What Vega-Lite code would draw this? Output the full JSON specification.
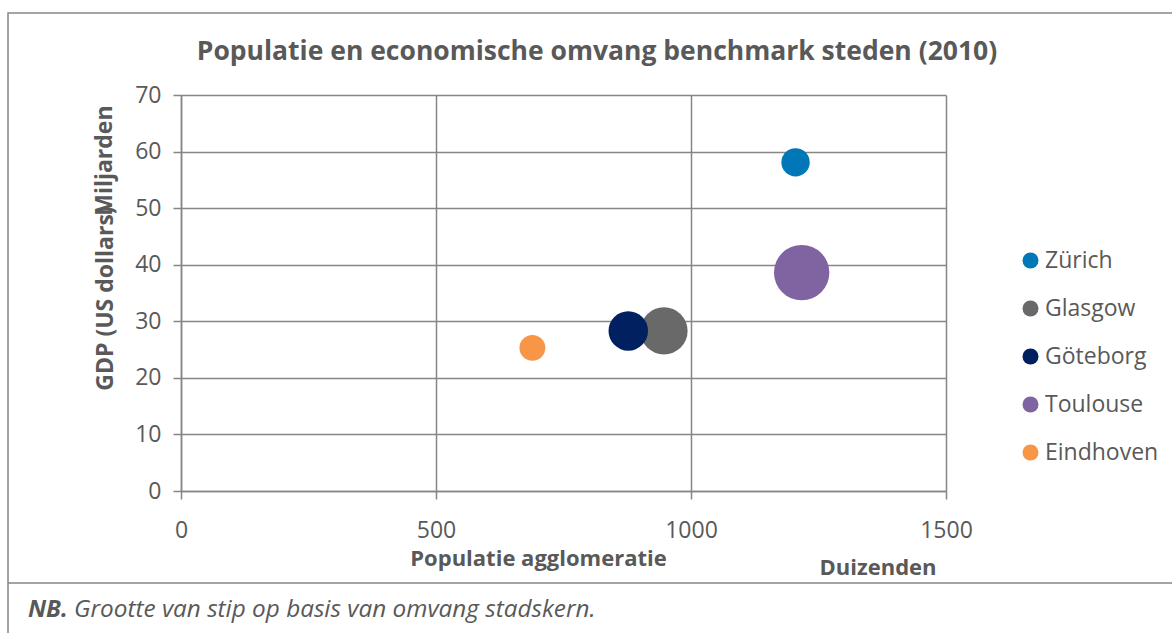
{
  "$schema": "https://vega.github.io/schema/vega-lite/v6.json",
  "width": 765,
  "height": 396,
  "autosize": {"type": "none"},
  "padding": {"left": 181, "top": 95, "right": 226, "bottom": 142},
  "background": "white",
  "config": {
    "font": "Open Sans",
    "view": {"stroke": null},
    "axis": {
      "labelFont": "Open Sans",
      "labelFontSize": 23,
      "labelColor": "#595959",
      "titleFont": "Open Sans",
      "titleColor": "#595959",
      "titleFontWeight": "bold",
      "gridColor": "#868686",
      "gridWidth": 1.5,
      "gridOpacity": 1,
      "domainColor": "#868686",
      "domainWidth": 1.5,
      "tickColor": "#868686",
      "tickWidth": 1.5,
      "tickSize": 8
    }
  },
  "layer": [
    {
      "data": {
        "values": [
          {"stad": "Zürich", "populatie": 1205, "gdp": 58.1, "omvang": 31},
          {"stad": "Glasgow", "populatie": 947, "gdp": 28.3, "omvang": 86},
          {"stad": "Göteborg", "populatie": 877, "gdp": 28.3, "omvang": 60},
          {"stad": "Toulouse", "populatie": 1217, "gdp": 38.6, "omvang": 118},
          {"stad": "Eindhoven", "populatie": 689, "gdp": 25.3, "omvang": 26}
        ]
      },
      "mark": {"type": "circle", "opacity": 1},
      "encoding": {
        "x": {
          "field": "populatie",
          "type": "quantitative",
          "scale": {"domain": [0, 1500], "nice": false},
          "axis": {
            "values": [0, 500, 1000, 1500],
            "format": "d",
            "title": "Populatie agglomeratie",
            "titleFontSize": 22,
            "titleX": 357,
            "titleY": 67,
            "titleAlign": "center",
            "titleBaseline": "middle",
            "labelPadding": 20,
            "labelFlush": false
          }
        },
        "y": {
          "field": "gdp",
          "type": "quantitative",
          "scale": {"domain": [0, 70], "nice": false},
          "axis": {
            "values": [0, 10, 20, 30, 40, 50, 60, 70],
            "format": "d",
            "title": "GDP (US dollars)",
            "titleFontSize": 23,
            "titleAngle": 270,
            "titleX": -76,
            "titleY": 203,
            "titleAlign": "center",
            "titleBaseline": "middle",
            "labelPadding": 12,
            "labelFlush": false
          }
        },
        "size": {
          "field": "omvang",
          "type": "quantitative",
          "scale": {"domain": [0, 118], "range": [0, 3065]},
          "legend": null
        },
        "color": {
          "field": "stad",
          "type": "nominal",
          "sort": null,
          "scale": {
            "domain": ["Zürich", "Glasgow", "Göteborg", "Toulouse", "Eindhoven"],
            "range": ["#0077B6", "#696969", "#002060", "#8064A2", "#F79646"]
          },
          "legend": {
            "title": null,
            "orient": "none",
            "legendX": 838,
            "legendY": 154,
            "padding": 0,
            "labelFont": "Open Sans",
            "labelFontSize": 23,
            "labelColor": "#595959",
            "symbolType": "circle",
            "symbolSize": 256,
            "symbolStrokeWidth": 0,
            "symbolOpacity": 1,
            "rowPadding": 24,
            "labelOffset": 3
          }
        }
      }
    },
    {
      "data": {"values": [{"k": 1}]},
      "mark": {"type": "rect", "fill": null, "stroke": "#868686", "strokeWidth": 1.5},
      "encoding": {
        "x": {"datum": -339.2, "type": "quantitative", "scale": {"domain": [0, 1500], "nice": false}},
        "x2": {"datum": 1975},
        "y": {"datum": 84.5, "type": "quantitative", "scale": {"domain": [0, 70], "nice": false}},
        "y2": {"datum": -30}
      }
    },
    {
      "data": {"values": [{"k": 1}]},
      "mark": {"type": "rule", "stroke": "#868686", "strokeWidth": 1.5},
      "encoding": {
        "x": {"datum": -339.2, "type": "quantitative", "scale": {"domain": [0, 1500], "nice": false}},
        "x2": {"datum": 1975},
        "y": {"datum": -16.26, "type": "quantitative", "scale": {"domain": [0, 70], "nice": false}}
      }
    },
    {
      "data": {"values": [{"tekst": "Populatie en economische omvang benchmark steden (2010)"}]},
      "mark": {"type": "text", "font": "Open Sans", "fontSize": 26.5, "fontWeight": "bold", "color": "#595959", "align": "center", "baseline": "middle"},
      "encoding": {
        "text": {"field": "tekst"},
        "x": {"datum": 815.7, "type": "quantitative", "scale": {"domain": [0, 1500], "nice": false}},
        "y": {"datum": 77.6, "type": "quantitative", "scale": {"domain": [0, 70], "nice": false}}
      }
    },
    {
      "data": {"values": [{"tekst": "Miljarden"}]},
      "mark": {"type": "text", "font": "Open Sans", "fontSize": 23, "fontWeight": "bold", "color": "#595959", "align": "center", "baseline": "middle", "angle": 270},
      "encoding": {
        "text": {"field": "tekst"},
        "x": {"datum": -149, "type": "quantitative", "scale": {"domain": [0, 1500], "nice": false}},
        "y": {"datum": 58.4, "type": "quantitative", "scale": {"domain": [0, 70], "nice": false}}
      }
    },
    {
      "data": {"values": [{"tekst": "Duizenden"}]},
      "mark": {"type": "text", "font": "Open Sans", "fontSize": 22, "fontWeight": "bold", "color": "#595959", "align": "center", "baseline": "middle"},
      "encoding": {
        "text": {"field": "tekst"},
        "x": {"datum": 1366.7, "type": "quantitative", "scale": {"domain": [0, 1500], "nice": false}},
        "y": {"datum": -13.6, "type": "quantitative", "scale": {"domain": [0, 70], "nice": false}}
      }
    },
    {
      "data": {"values": [{"tekst": "NB."}]},
      "mark": {"type": "text", "font": "Open Sans", "fontSize": 24, "fontWeight": "bold", "fontStyle": "italic", "color": "#595959", "align": "left", "baseline": "middle"},
      "encoding": {
        "text": {"field": "tekst"},
        "x": {"datum": -300.0, "type": "quantitative", "scale": {"domain": [0, 1500], "nice": false}},
        "y": {"datum": -21.04, "type": "quantitative", "scale": {"domain": [0, 70], "nice": false}}
      }
    },
    {
      "data": {"values": [{"tekst": "Grootte van stip op basis van omvang stadskern."}]},
      "mark": {"type": "text", "font": "Open Sans", "fontSize": 24.3, "fontStyle": "italic", "color": "#595959", "align": "left", "baseline": "middle"},
      "encoding": {
        "text": {"field": "tekst"},
        "x": {"datum": -209.8, "type": "quantitative", "scale": {"domain": [0, 1500], "nice": false}},
        "y": {"datum": -21.04, "type": "quantitative", "scale": {"domain": [0, 70], "nice": false}}
      }
    }
  ]
}
